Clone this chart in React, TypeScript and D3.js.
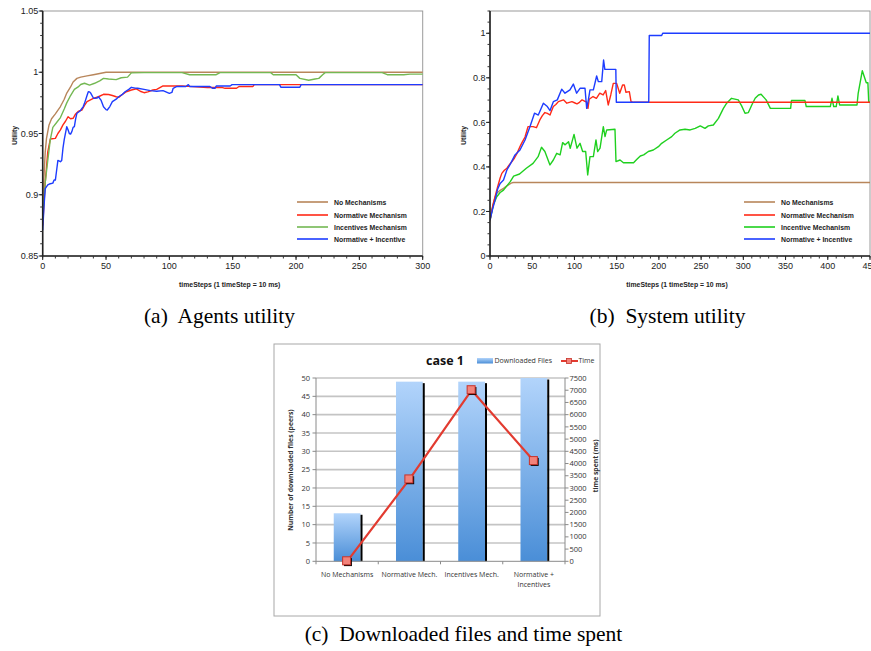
import React from 'react';
import * as d3 from 'd3';

type Pt = [number, number];

// ---------- (a) Agents utility ----------
const agentsNoMech: Pt[] = [[0,0.885],[1,0.915],[2,0.935],[3,0.946],[5,0.957],[7,0.962],[10,0.966],[14,0.972],[17,0.978],[19,0.983],[22,0.988],[24,0.992],[27,0.995],[30,0.996],[35,0.997],[40,0.998],[45,0.999],[50,1.0],[300,1.0]];
const agentsIncentives: Pt[] = [[0,0.88],[2,0.91],[4,0.928],[6,0.945],[8,0.955],[11,0.959],[14,0.963],[17,0.97],[19,0.975],[22,0.981],[25,0.986],[28,0.988],[30,0.99],[33,0.991],[37,0.9895],[41,0.991],[45,0.993],[48,0.995],[52,0.9945],[58,0.994],[62,0.9955],[67,0.996],[70,0.9995],[80,0.9997],[110,0.9997],[116,0.998],[137,0.998],[140,0.9997],[180,0.9997],[182,0.998],[200,0.998],[203,0.995],[210,0.9935],[215,0.9945],[218,0.995],[221,0.998],[223,0.9997],[268,0.9997],[272,0.998],[285,0.998],[290,0.9985],[300,0.9985]];
const agentsNormative: Pt[] = [[0,0.875],[2,0.91],[4,0.935],[6,0.9455],[10,0.946],[12,0.95],[14,0.953],[16,0.957],[18,0.96],[20,0.9637],[22,0.962],[24,0.9624],[26,0.966],[28,0.968],[31,0.9692],[33,0.973],[35,0.976],[40,0.9787],[44,0.98],[48,0.982],[52,0.9818],[55,0.981],[58,0.98],[60,0.9795],[63,0.982],[66,0.9841],[70,0.9855],[74,0.9865],[77,0.9845],[80,0.9833],[83,0.984],[87,0.9855],[90,0.986],[95,0.9888],[110,0.9888],[115,0.9885],[130,0.9875],[142,0.9875],[144,0.9869],[153,0.9869],[155,0.9884],[166,0.9884],[167,0.9899],[300,0.9899]];
const agentsBoth: Pt[] = [[0,0.871],[1,0.89],[2,0.905],[4,0.908],[6,0.909],[8,0.9095],[9,0.912],[10,0.912],[11,0.92],[12,0.928],[14,0.927],[15,0.928],[16,0.938],[17,0.945],[19,0.9556],[20,0.953],[21,0.95],[22,0.9495],[23,0.9515],[24,0.955],[25,0.9556],[26,0.962],[27,0.9665],[29,0.968],[30,0.969],[32,0.972],[33,0.9746],[35,0.981],[36,0.9841],[37,0.984],[38,0.9828],[40,0.979],[41,0.9787],[43,0.979],[44,0.98],[46,0.9773],[48,0.9719],[50,0.9695],[51,0.9692],[53,0.972],[55,0.976],[58,0.978],[60,0.98],[63,0.982],[65,0.9841],[68,0.986],[70,0.9877],[73,0.987],[75,0.9869],[80,0.986],[85,0.985],[90,0.9845],[95,0.985],[100,0.9828],[102,0.9835],[103,0.9869],[106,0.9884],[113,0.9884],[115,0.9899],[116,0.9884],[132,0.9884],[134,0.9869],[136,0.9869],[137,0.9888],[148,0.9888],[149.5,0.9899],[187,0.9899],[188,0.9877],[203,0.9877],[204,0.9899],[300,0.9899]];

// ---------- (b) System utility ----------
const systemNoMech: Pt[] = [[0,0.155],[2,0.2],[4,0.237],[6,0.265],[8,0.282],[12,0.295],[16,0.304],[20,0.315],[26,0.329],[28,0.33],[450,0.33]];
const systemNormative: Pt[] = [[0,0.162],[3,0.22],[6,0.266],[9,0.31],[12,0.35],[14,0.371],[17,0.385],[20,0.394],[23,0.41],[26,0.424],[29,0.44],[32,0.461],[35.5,0.491],[38,0.51],[41.5,0.534],[45,0.581],[51,0.581],[55,0.576],[59,0.611],[62,0.63],[65,0.644],[68,0.64],[71,0.633],[75,0.671],[78,0.68],[81,0.693],[87,0.701],[91,0.686],[94,0.69],[97,0.693],[100,0.688],[103,0.683],[106,0.69],[109,0.701],[112,0.695],[114,0.693],[116,0.663],[117.5,0.704],[122,0.716],[126,0.708],[130,0.731],[134,0.723],[137,0.743],[140,0.678],[143,0.723],[146,0.775],[150,0.775],[153.6,0.731],[157,0.768],[159,0.768],[161,0.735],[165,0.738],[167,0.693],[170,0.69],[450,0.69]];
const systemIncentive: Pt[] = [[0,0.162],[4,0.23],[8,0.266],[12,0.285],[16,0.296],[20,0.315],[24,0.334],[28,0.359],[35,0.368],[43,0.394],[51,0.416],[57,0.446],[61,0.488],[65,0.469],[71,0.409],[75,0.431],[79,0.461],[83,0.454],[86,0.509],[89,0.499],[93,0.513],[95,0.484],[99.5,0.546],[103,0.484],[106.6,0.506],[109.7,0.469],[113.3,0.469],[115.7,0.364],[118.4,0.446],[122.4,0.446],[125.5,0.521],[127.5,0.469],[130.3,0.484],[134.2,0.581],[136.2,0.536],[138.2,0.566],[148,0.569],[149.2,0.424],[154,0.431],[158,0.419],[170,0.419],[174,0.434],[178,0.449],[182,0.454],[187.5,0.469],[193.4,0.476],[199.4,0.491],[203.3,0.506],[209.2,0.521],[215.2,0.536],[219,0.551],[225,0.566],[231,0.569],[237,0.566],[243,0.573],[249,0.584],[254.6,0.573],[258.6,0.584],[264.5,0.588],[270.5,0.618],[276.4,0.663],[280.3,0.686],[286,0.708],[294,0.701],[298,0.674],[302,0.641],[306,0.644],[310,0.678],[314,0.708],[318,0.723],[321,0.726],[327,0.701],[332,0.663],[356,0.663],[357,0.698],[373,0.698],[374.5,0.671],[403,0.671],[405,0.708],[407,0.671],[410,0.671],[412,0.719],[414,0.678],[434.6,0.678],[436,0.73],[440.9,0.832],[445.6,0.778],[447.5,0.778],[448.5,0.69],[450,0.69]];
const systemBoth: Pt[] = [[0,0.16],[3,0.21],[6,0.251],[9,0.3],[12,0.326],[16,0.341],[20,0.386],[24.5,0.416],[29.6,0.454],[35.5,0.476],[41.5,0.521],[47.4,0.581],[52.7,0.641],[57.2,0.633],[63.2,0.686],[67.9,0.671],[71.1,0.653],[75,0.693],[79.7,0.701],[84.9,0.749],[88.8,0.731],[94.7,0.746],[98.7,0.772],[102.6,0.731],[106.6,0.753],[112.5,0.753],[114.5,0.663],[116.5,0.701],[118.4,0.746],[122.4,0.746],[126.3,0.808],[128.3,0.783],[132.3,0.783],[134.5,0.88],[136,0.838],[149,0.838],[149.6,0.69],[188,0.69],[188.6,0.99],[203.3,0.99],[204.5,1.0],[450,1.0]];

// ---------- (c) Downloaded files and time spent ----------
const barCategories = ['No Mechanisms', 'Normative Mech.', 'Incentives Mech.', 'Normative +\nIncentives'];
const downloadedFiles = [13.1, 49, 49, 50];
const timeSpent = [0, 3350, 7000, 4100];

// tick labels
const agentsXTicks = [0, 50, 100, 150, 200, 250, 300];
const agentsYTicks = [0.85, 0.9, 0.95, 1, 1.05];
const systemXTicks = [0, 50, 100, 150, 200, 250, 300, 350, 400, 450];
const systemYTicks = [0, 0.2, 0.4, 0.6, 0.8, 1];
const filesTicks = [0, 5, 10, 15, 20, 25, 30, 35, 40, 45, 50];
const timeTicks = [0, 500, 1000, 1500, 2000, 2500, 3000, 3500, 4000, 4500, 5000, 5500, 6000, 6500, 7000, 7500];

const BROWN = '#b8865b';
const RED = '#ff2a17';
const GREEN_A = '#74b853';
const GREEN_B = '#1fd01f';
const BLUE = '#1d3cff';

interface Series { name: string; color: string; data: Pt[] }

const SANS = 'Liberation Sans, Arial, sans-serif';
const CONDENSE = 0.86;

function LinePanel(props: {
  left: number; right: number; top: number; bottom: number;
  xMax: number; yMin: number; yMax: number;
  xTicks: number[]; xMinor: number; yTicks: number[]; yMinor: number;
  series: Series[]; legend: Series[]; legendX: number; ylabelX: number; clipId: string;
}) {
  const { left, right, top, bottom, xMax, yMin, yMax, xTicks, xMinor, yTicks, yMinor, series, legend, legendX, ylabelX, clipId } = props;
  const x = d3.scaleLinear().domain([0, xMax]).range([left, right]);
  const y = d3.scaleLinear().domain([yMin, yMax]).range([bottom, top]);
  const line = d3.line<Pt>().x(d => x(d[0])).y(d => y(d[1]));
  const xm = d3.range(0, xMax + 1e-9, xMinor);
  const ym = d3.range(0, Math.round((yMax - yMin) / yMinor) + 1).map(i => yMin + i * yMinor);
  const fmt = (v: number) => String(+v.toFixed(2));
  const rows = [202, 215, 227, 239];
  return (
    <g>
      <defs>
        <clipPath id={clipId}><rect x={left} y={top - 2} width={right - left + 1} height={bottom - top + 2} /></clipPath>
      </defs>
      <rect x={left} y={top} width={right - left} height={bottom - top} fill="none" stroke="#9a9a9a" strokeWidth={1} />
      <g clipPath={`url(#${clipId})`}>
        {series.map(s => (
          <path key={s.name} d={line(s.data) || ''} fill="none" stroke={s.color} strokeWidth={1.4} strokeLinejoin="round" />
        ))}
      </g>
      <line x1={left} x2={left} y1={top} y2={bottom} stroke="#222" strokeWidth={1.6} />
      <line x1={left} x2={right} y1={bottom} y2={bottom} stroke="#222" strokeWidth={1.6} />
      {ym.map((v, i) => (
        <line key={'ym' + i} x1={left - 2.5} x2={left} y1={y(v)} y2={y(v)} stroke="#333" strokeWidth={1} />
      ))}
      {yTicks.map(v => (
        <g key={'yt' + v}>
          <line x1={left - 4} x2={left} y1={y(v)} y2={y(v)} stroke="#222" strokeWidth={1} />
          <text x={left - 4.5} y={y(v)} dy="0.35em" textAnchor="end" fontFamily={SANS} fontSize={9} fill="#222">{fmt(v)}</text>
        </g>
      ))}
      {xm.map((v, i) => (
        <line key={'xm' + i} x1={x(v)} x2={x(v)} y1={bottom} y2={bottom + 2.5} stroke="#333" strokeWidth={1} />
      ))}
      {xTicks.map(v => (
        <g key={'xt' + v}>
          <line x1={x(v)} x2={x(v)} y1={bottom} y2={bottom + 4} stroke="#222" strokeWidth={1} />
          <text x={x(v)} y={bottom + 12.5} textAnchor="middle" fontFamily={SANS} fontSize={9} fill="#222">{v}</text>
        </g>
      ))}
      <text transform={`translate(${ylabelX},${(top + bottom) / 2 + 2}) rotate(-90) scale(${CONDENSE},1)`} textAnchor="middle" dy="0.35em" fontFamily={SANS} fontWeight="bold" fontSize={8} fill="#222">Utility</text>
      <text transform={`translate(${(left + right) / 2 - 3},287) scale(${CONDENSE},1)`} textAnchor="middle" fontFamily={SANS} fontWeight="bold" fontSize={8} fill="#222">timeSteps (1 timeStep = 10 ms)</text>
      {legend.map((s, i) => (
        <g key={'lg' + s.name}>
          <line x1={legendX} x2={legendX + 31} y1={rows[i]} y2={rows[i]} stroke={s.color} strokeWidth={1.6} />
          <text transform={`translate(${legendX + 37},${rows[i]}) scale(${CONDENSE},1)`} dy="0.35em" fontFamily={SANS} fontWeight="bold" fontSize={8} fill="#222">{s.name}</text>
        </g>
      ))}
    </g>
  );
}

function BarPanel() {
  const L = 316, R = 565, B = 561.3, T = 378;
  const cx = d3.scaleBand<string>().domain(barCategories).range([L, R]).paddingInner(0.57).paddingOuter(0.285);
  const yL = d3.scaleLinear().domain([0, 50]).range([B, T]);
  const yR = d3.scaleLinear().domain([0, 7500]).range([B, T]);
  const bw = cx.bandwidth();
  const center = (c: string) => (cx(c) as number) + bw / 2;
  const pts: Pt[] = barCategories.map((c, i) => [center(c), yR(timeSpent[i])]);
  const line = d3.line<Pt>().x(d => d[0]).y(d => d[1]);
  const F = '"Open Sans", "Liberation Sans", sans-serif';
  const step = cx.step();
  return (
    <g>
      <defs>
        <linearGradient id="barGrad" x1="0" y1="0" x2="0" y2="1">
          <stop offset="0" stopColor="#b2d4fb" />
          <stop offset="1" stopColor="#4a8ed7" />
        </linearGradient>
      </defs>
      <rect x={274} y={344} width={326} height={272} fill="#fff" stroke="#a8a8a8" strokeWidth={1} />
      {filesTicks.filter(v => v > 0).map(v => (
        <line key={'g' + v} x1={L} x2={R} y1={yL(v)} y2={yL(v)} stroke="#c4c4c4" strokeWidth={1.6} />
      ))}
      {barCategories.map((c, i) => (
        <g key={c}>
          <rect x={cx(c)} y={yL(downloadedFiles[i])} width={bw} height={B - yL(downloadedFiles[i])} fill="url(#barGrad)" />
          <rect x={(cx(c) as number) + bw} y={yL(downloadedFiles[i]) + 1.5} width={2} height={B - yL(downloadedFiles[i]) - 1.5} fill="#000" />
        </g>
      ))}
      <line x1={L} x2={L} y1={T} y2={B} stroke="#8a8a8a" strokeWidth={1} />
      <line x1={R} x2={R} y1={T} y2={B} stroke="#8a8a8a" strokeWidth={1} />
      <line x1={L} x2={R} y1={B} y2={B} stroke="#8a8a8a" strokeWidth={1} />
      {d3.range(0, barCategories.length + 1).map(i => (
        <line key={'bt' + i} x1={L + i * step} x2={L + i * step} y1={B} y2={B + 3} stroke="#8a8a8a" strokeWidth={1} />
      ))}
      {filesTicks.map(v => (
        <g key={'lt' + v}>
          <line x1={L - 3.5} x2={L} y1={yL(v)} y2={yL(v)} stroke="#8a8a8a" strokeWidth={1} />
          <text x={L - 6} y={yL(v)} dy="0.35em" textAnchor="end" fontFamily={F} fontSize={7.5} fill="#333">{v}</text>
        </g>
      ))}
      {timeTicks.map(v => (
        <g key={'rt' + v}>
          <line x1={R} x2={R + 3.5} y1={yR(v)} y2={yR(v)} stroke="#8a8a8a" strokeWidth={1} />
          <text x={R + 4.5} y={yR(v)} dy="0.35em" textAnchor="start" fontFamily={F} fontSize={7.5} fill="#333">{v}</text>
        </g>
      ))}
      {barCategories.map(c => {
        const parts = c.split('\n');
        return (
          <text key={'cl' + c} x={center(c)} y={576.5} textAnchor="middle" fontFamily={F} fontSize={7} fill="#333">
            {parts.map((p, j) => (
              <tspan key={j} x={center(c)} dy={j === 0 ? 0 : 10.5}>{p}</tspan>
            ))}
          </text>
        );
      })}
      <path d={line(pts) || ''} fill="none" stroke="#e23b30" strokeWidth={2.2} strokeLinejoin="round" />
      {pts.map((p, i) => (
        <g key={'m' + i}>
          <rect x={p[0] - 3.2} y={p[1] - 3.2} width={8} height={8} fill="#000" />
          <rect x={p[0] - 4.5} y={p[1] - 4.5} width={8} height={8} fill="#f2837b" stroke="#c8322a" strokeWidth={1} />
        </g>
      ))}
      <text transform={`translate(291,470) rotate(-90)`} textAnchor="middle" dy="0.35em" fontFamily={F} fontWeight="bold" fontSize={6.8} fill="#333">Number of downloaded files (peers)</text>
      <text transform={`translate(596,466) rotate(-90)`} textAnchor="middle" dy="0.35em" fontFamily={F} fontWeight="bold" fontSize={6.8} fill="#333">time spent (ms)</text>
      <text x={445} y={361} dy="0.35em" textAnchor="middle" fontFamily={F} fontWeight="bold" fontSize={12.5} fill="#111">case 1</text>
      <rect x={477} y={358} width={16} height={5.5} fill="url(#barGrad)" />
      <text x={494.5} y={361} dy="0.35em" fontFamily={F} fontSize={7} fill="#333">Downloaded Files</text>
      <line x1={561} x2={578} y1={361} y2={361} stroke="#e23b30" strokeWidth={2} />
      <rect x={566.5} y={358.5} width={5} height={5} fill="#f2837b" stroke="#c8322a" strokeWidth={0.8} />
      <text x={578.5} y={361} dy="0.35em" fontFamily={F} fontSize={7} fill="#333">Time</text>
    </g>
  );
}

export default function App() {
  const aSeries: Series[] = [
    { name: 'No Mechanisms', color: BROWN, data: agentsNoMech },
    { name: 'Normative Mechanism', color: RED, data: agentsNormative },
    { name: 'Incentives Mechanism', color: GREEN_A, data: agentsIncentives },
    { name: 'Normative + Incentive', color: BLUE, data: agentsBoth },
  ];
  const bSeries: Series[] = [
    { name: 'No Mechanisms', color: BROWN, data: systemNoMech },
    { name: 'Normative Mechanism', color: RED, data: systemNormative },
    { name: 'Incentive Mechanism', color: GREEN_B, data: systemIncentive },
    { name: 'Normative + Incentive', color: BLUE, data: systemBoth },
  ];
  const bDraw = [bSeries[0], bSeries[2], bSeries[1], bSeries[3]];
  const serif = '"Liberation Serif", "Times New Roman", serif';
  const cap = { whiteSpace: 'pre' as const };
  return (
    <div style={{ position: 'fixed', left: 0, top: 0, width: 871, height: 651, background: '#fff' }}>
      <svg width={871} height={651} viewBox="0 0 871 651" style={{ display: 'block' }}>
        <rect x={0} y={0} width={871} height={651} fill="#fff" />
        <LinePanel left={42.7} right={422.7} top={11} bottom={256} xMax={300} yMin={0.85} yMax={1.05}
          xTicks={agentsXTicks} xMinor={10} yTicks={agentsYTicks} yMinor={0.01}
          series={aSeries} legend={aSeries} legendX={297} ylabelX={14} clipId="clipA" />
        <LinePanel left={490} right={870} top={11} bottom={256} xMax={450} yMin={0} yMax={1.1}
          xTicks={systemXTicks} xMinor={10} yTicks={systemYTicks} yMinor={0.05}
          series={bDraw} legend={bSeries} legendX={744} ylabelX={463} clipId="clipB" />
        <text x={219.5} y={323} textAnchor="middle" fontFamily={serif} fontSize={21.5} fill="#000" style={cap}>(a)  Agents utility</text>
        <text x={667.5} y={323} textAnchor="middle" fontFamily={serif} fontSize={21.5} fill="#000" style={cap}>(b)  System utility</text>
        <BarPanel />
        <text x={463.5} y={641} textAnchor="middle" fontFamily={serif} fontSize={21.5} fill="#000" style={cap}>(c)  Downloaded files and time spent</text>
      </svg>
    </div>
  );
}
